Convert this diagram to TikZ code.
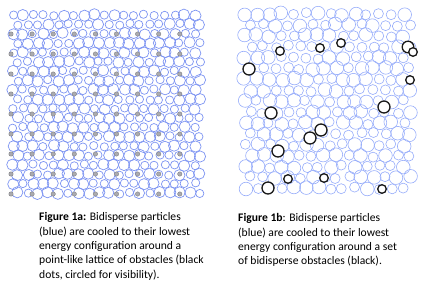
\documentclass[tikz,border=0pt]{standalone}
\usepackage{fontspec}
\setmainfont{Carlito}
\definecolor{pblue}{RGB}{125,148,242}
\definecolor{pblueb}{RGB}{150,172,250}
\definecolor{dotgray}{RGB}{150,150,155}
\begin{document}
\begin{tikzpicture}[x=1pt,y=-1pt,
  parta/.style={draw=pblue,line width=0.7pt},
  partb/.style={draw=pblueb,line width=0.6pt},
  obsdot/.style={fill=dotgray!80,draw=dotgray!85!black,line width=0.4pt},
  obsring/.style={draw=black!90,line width=1.3pt,fill=white},
  caption/.style={anchor=north west,inner sep=0pt,align=left,font=\fontsize{11.6}{14.3}\selectfont}]
\useasboundingbox (0,0) rectangle (434,294);
\pgfmathsetseed{11}
% left panel particles
\foreach \j in {0,...,19}{
  \foreach \i in {0,...,18}{
    \pgfmathsetmacro\cx{13+10.1*\i+5*mod(\j,2)+1.0*rand}
    \pgfmathsetmacro\cy{15+9.37*\j+1.0*rand}
    \pgfmathsetmacro\rr{rnd<0.5?4.1:5.6}
    \draw[parta] (\cx,\cy) circle[radius=\rr pt];
  }}
% left panel obstacles
\foreach \i in {0,...,8}{
  \foreach \j in {0,...,8}{
    \draw[obsdot] (11+21.1*\i,34+20*\j) circle[radius=2.2pt];
  }}
% right panel particles
\foreach \j in {0,...,16}{
  \foreach \i in {0,...,13}{
    \pgfmathsetmacro\cx{245+12.2*\i+6*mod(\j,2)+1.5*rand}
    \pgfmathsetmacro\cy{14+10.9*\j+1.5*rand}
    \pgfmathsetmacro\rr{rnd<0.5?5.0:6.8}
    \draw[partb] (\cx,\cy) circle[radius=\rr pt];
  }}
% right panel obstacles
\foreach \x/\y/\r in {280/51/4.3, 249/69/6, 320/48/4.3, 341/43/4.3, 408/47/5.8,
  413/52/4.3, 410/80/4.3, 384/107/6, 271/113/6, 321/130/6, 310/138/6,
  278/151/6, 288/179/4.3, 324/178/4.3, 268/188/6, 382/189/4.3}{
  \draw[obsring] (\x,\y) circle[radius=\r pt];
}
\node[caption] (capa) at (39,212.5) {\textbf{Figure 1a:} Bidisperse particles\\(blue) are cooled to their lowest\\energy configuration around a\\point-like lattice of obstacles (black\\dots, circled for visibility).};
\node[caption] (capb) at (238,213.5) {\textbf{Figure 1b}: Bidisperse particles\\(blue) are cooled to their lowest\\energy configuration around a set\\of bidisperse obstacles (black).};
\end{tikzpicture}
\end{document}
